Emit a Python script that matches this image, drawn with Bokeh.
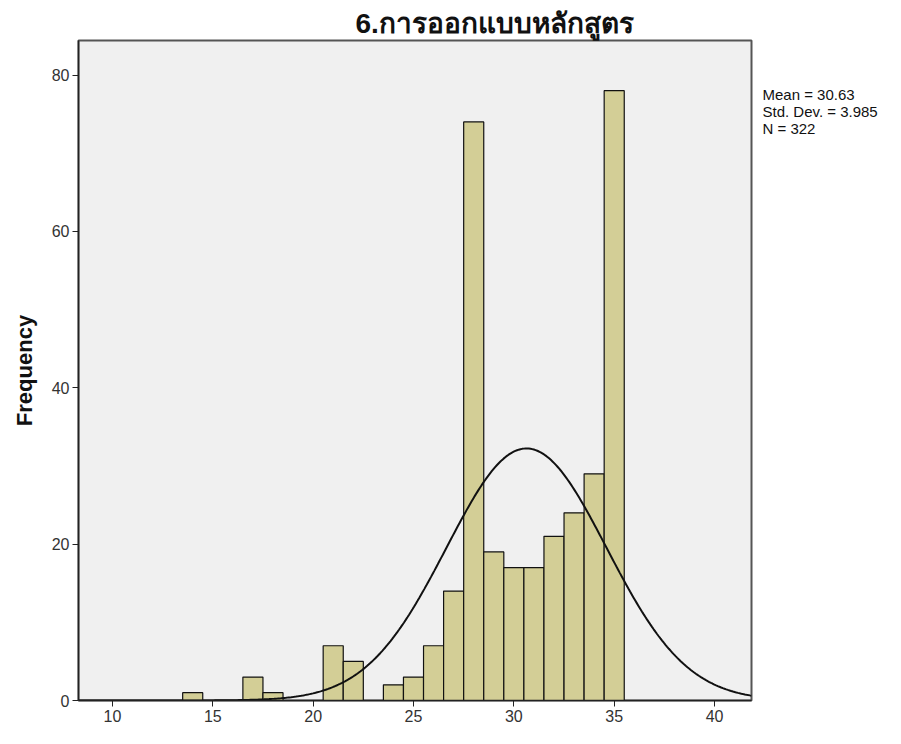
import numpy as np
from bokeh.plotting import figure
from bokeh.models import Label, FixedTicker, Range1d, ColumnDataSource, Title
from bokeh.embed import file_html
from bokeh.resources import INLINE

# ---- data ----
title_text = "6.การออกแบบหลักสูตร"
scores = [14, 17, 18, 21, 22, 24, 25, 26, 27, 28, 29, 30, 31, 32, 33, 34, 35]
counts = [1, 3, 1, 7, 5, 2, 3, 7, 14, 74, 19, 17, 17, 21, 24, 29, 78]
x_ticks = [10, 15, 20, 25, 30, 35, 40]
y_ticks = [0, 20, 40, 60, 80]
stat_mean = 30.63
stat_sd = 3.985
stat_n = 322
bin_width = 1.0
stat_lines = ["Mean = 30.63", "Std. Dev. = 3.985", "N = 322"]

FONT = "Liberation Sans"
X0, X1 = 8.31, 41.84
Y0, Y1 = 0, 84.42

W, H = 885, 728
BL, BR, BT, BB = 78, 134, 40, 28
FH = H - BT - BB

p = figure(width=W, height=H, output_backend="svg", toolbar_location=None,
           x_range=Range1d(X0, X1), y_range=Range1d(Y0, Y1),
           min_border_left=BL, min_border_right=BR, min_border_top=BT, min_border_bottom=BB,
           background_fill_color="#F0F0F0", border_fill_color="white")

p.grid.visible = False
p.outline_line_color = "#555555"
p.outline_line_width = 2

src = ColumnDataSource(dict(x=scores, top=counts))
p.vbar(x="x", top="top", width=bin_width, bottom=0, source=src,
       fill_color="#D3CE96", line_color="#111111", line_width=1.2)

# fitted normal curve from the stated statistics
xs = np.linspace(X0, X1, 400)
ys = stat_n * bin_width / (stat_sd * np.sqrt(2 * np.pi)) * np.exp(-0.5 * ((xs - stat_mean) / stat_sd) ** 2)
p.line(xs, ys, line_color="#111111", line_width=2)

for ax in (p.xaxis[0], p.yaxis[0]):
    ax.minor_tick_line_color = None
    ax.major_tick_out = 6
    ax.major_tick_in = 0
    ax.axis_line_color = "#222222"
    ax.axis_line_width = 1.5
    ax.major_tick_line_color = "#222222"
    ax.major_label_text_font = FONT
    ax.major_label_text_font_size = "16px"
    ax.major_label_text_color = "#333333"
    ax.major_label_standoff = 3

p.xaxis.ticker = FixedTicker(ticks=x_ticks)
p.yaxis.ticker = FixedTicker(ticks=y_ticks)
p.yaxis.axis_label = "Frequency"
p.yaxis.axis_label_text_font = FONT
p.yaxis.axis_label_text_font_style = "bold"
p.yaxis.axis_label_text_font_size = "22px"
p.yaxis.axis_label_text_color = "#111111"
p.yaxis.axis_label_standoff = 12

# title
p.add_layout(Title(text=title_text, align="left", offset=277, text_font=FONT,
                   text_font_size="28px", text_font_style="bold", text_color="#111111",
                   standoff=4), "above")

# statistics text in the right panel (one multi-line label)
p.add_layout(Label(x=11, y=FH - 45, x_units="screen", y_units="screen",
                   text="\n".join(stat_lines),
                   text_font=FONT, text_font_size="15px", text_align="left",
                   text_baseline="top", text_line_height=1.0, text_color="#111111"), "right")

open("out.html", "w").write(file_html(p, INLINE))
